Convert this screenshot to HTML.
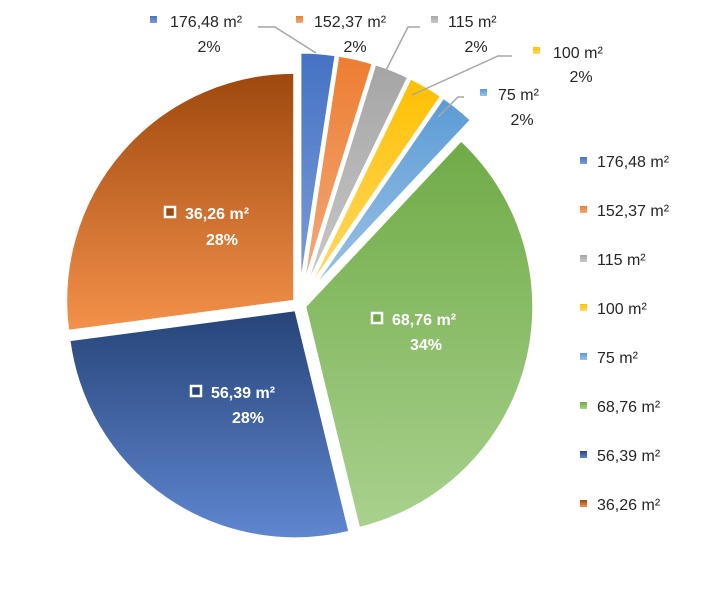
<!DOCTYPE html>
<html><head><meta charset="utf-8"><style>
body{margin:0;background:#fff;}
svg{display:block;font-family:"Liberation Sans",sans-serif;}
</style></head><body>
<svg id="chart" width="726" height="608" viewBox="0 0 726 608" xmlns="http://www.w3.org/2000/svg">
<defs id="defs"></defs>
<g id="slices"></g>
<g id="leaders"></g>
<g id="labels"></g>
<g id="legend"></g>
</svg>
<script>
const categories = ["176,48 m²","152,37 m²","115 m²","100 m²","75 m²","68,76 m²","56,39 m²","36,26 m²"];
const values = [2.4,2.4,2.4,2.4,2.4,34.2,26.7,27.1];
const pctLabels = ["2%","2%","2%","2%","2%","34%","28%","28%"];
const colorsTop = ["#4472c4","#ed7d31","#a5a5a5","#ffc000","#5b9bd5","#70ab47","#264478","#9e480e"];
const colorsBot = ["#7d9cd8","#f2aa7a","#c8c8c8","#ffd966","#9cc3e6","#a9d18e","#5f86d0","#f4914a"];
const explode = [25,25,25,25,25,7,7,7];

const NS="http://www.w3.org/2000/svg";
const cx=299, cy=305, R=227;
const defs=document.getElementById('defs');
const gS=document.getElementById('slices');
const gL=document.getElementById('labels');
const gLe=document.getElementById('leaders');
const gG=document.getElementById('legend');
function mk(t,a,p){const e=document.createElementNS(NS,t);for(const k in a)e.setAttribute(k,a[k]);p.appendChild(e);return e;}
function pt(a,r,ox,oy){return [ox+r*Math.sin(a),oy-r*Math.cos(a)];}
const total=values.reduce((s,v)=>s+v,0);
let acc=0;
const inner=[[null],[null],[null],[null],[null],[378,318],[196,391],[170,213]];
values.forEach((v,i)=>{
  const a0=acc/total*2*Math.PI; acc+=v; const a1=acc/total*2*Math.PI;
  const am=(a0+a1)/2;
  const ox=cx+explode[i]*Math.sin(am), oy=cy-explode[i]*Math.cos(am);
  const g=mk('linearGradient',{id:'g'+i,x1:0,y1:0,x2:0,y2:1},defs);
  mk('stop',{offset:0,'stop-color':colorsTop[i]},g);
  mk('stop',{offset:1,'stop-color':colorsBot[i]},g);
  const p0=pt(a0,R,ox,oy),p1=pt(a1,R,ox,oy);
  const large=(a1-a0)>Math.PI?1:0;
  const path=mk('path',{d:`M${ox},${oy}L${p0[0]},${p0[1]}A${R},${R} 0 ${large} 1 ${p1[0]},${p1[1]}Z`,fill:`url(#g${i})`,stroke:'#fff','stroke-width':1},gS);
  
  
});
// outside labels
const outPos=[[150,170,27,209,52],[296,314,27,355,52],[431,448,27,476,52],[533,553,58,581,82],[480,498,100,522,125]];
const leaderPts=["258,27 275,27 316,53","", "420,27 408,27 383,76","512,56 498,56 412,95","464,97 458,97 438,117"];
for(let i=0;i<5;i++){
  const [sx,tx,ty,px,py]=outPos[i];
  const r=mk('rect',{x:sx,y:ty-11,width:7,height:7,fill:`url(#g${i})`},gL);
  
  
  const t=mk('text',{x:tx,y:ty,'font-size':16,fill:'#262626'},gL);t.textContent=categories[i];
  
  
  const t2=mk('text',{x:px,y:py,'font-size':16,fill:'#262626','text-anchor':'middle'},gL);t2.textContent=pctLabels[i];
  
  
  if(leaderPts[i]){const l=mk('polyline',{points:leaderPts[i],fill:'none',stroke:'#a6a6a6','stroke-width':1.5},gLe);
  
  }
}
// inside labels
const inPos=[null,null,null,null,null,[372,392,325,426,350],[191,211,398,248,423],[165,185,219,222,245]];
for(let i=5;i<8;i++){
  const [sx,tx,ty,px,py]=inPos[i];
  const r=mk('rect',{x:sx,y:ty-12,width:10,height:10,fill:colorsTop[i],stroke:'#fff','stroke-width':2.5},gL);
  
  
  const t=mk('text',{x:tx,y:ty,'font-size':16,'font-weight':'bold',fill:'#fff'},gL);t.textContent=categories[i];
  
  
  const t2=mk('text',{x:px,y:py,'font-size':16,'font-weight':'bold',fill:'#fff','text-anchor':'middle'},gL);t2.textContent=pctLabels[i];
  
  
}
// legend
categories.forEach((c,i)=>{
  const y=161+i*49;
  const r=mk('rect',{x:580,y:y-4,width:7,height:7,fill:`url(#g${i})`},gG);
  
  
  const t=mk('text',{x:597,y:y+6,'font-size':16,fill:'#262626'},gG);t.textContent=c;
  
  
});
</script>
</body></html>
